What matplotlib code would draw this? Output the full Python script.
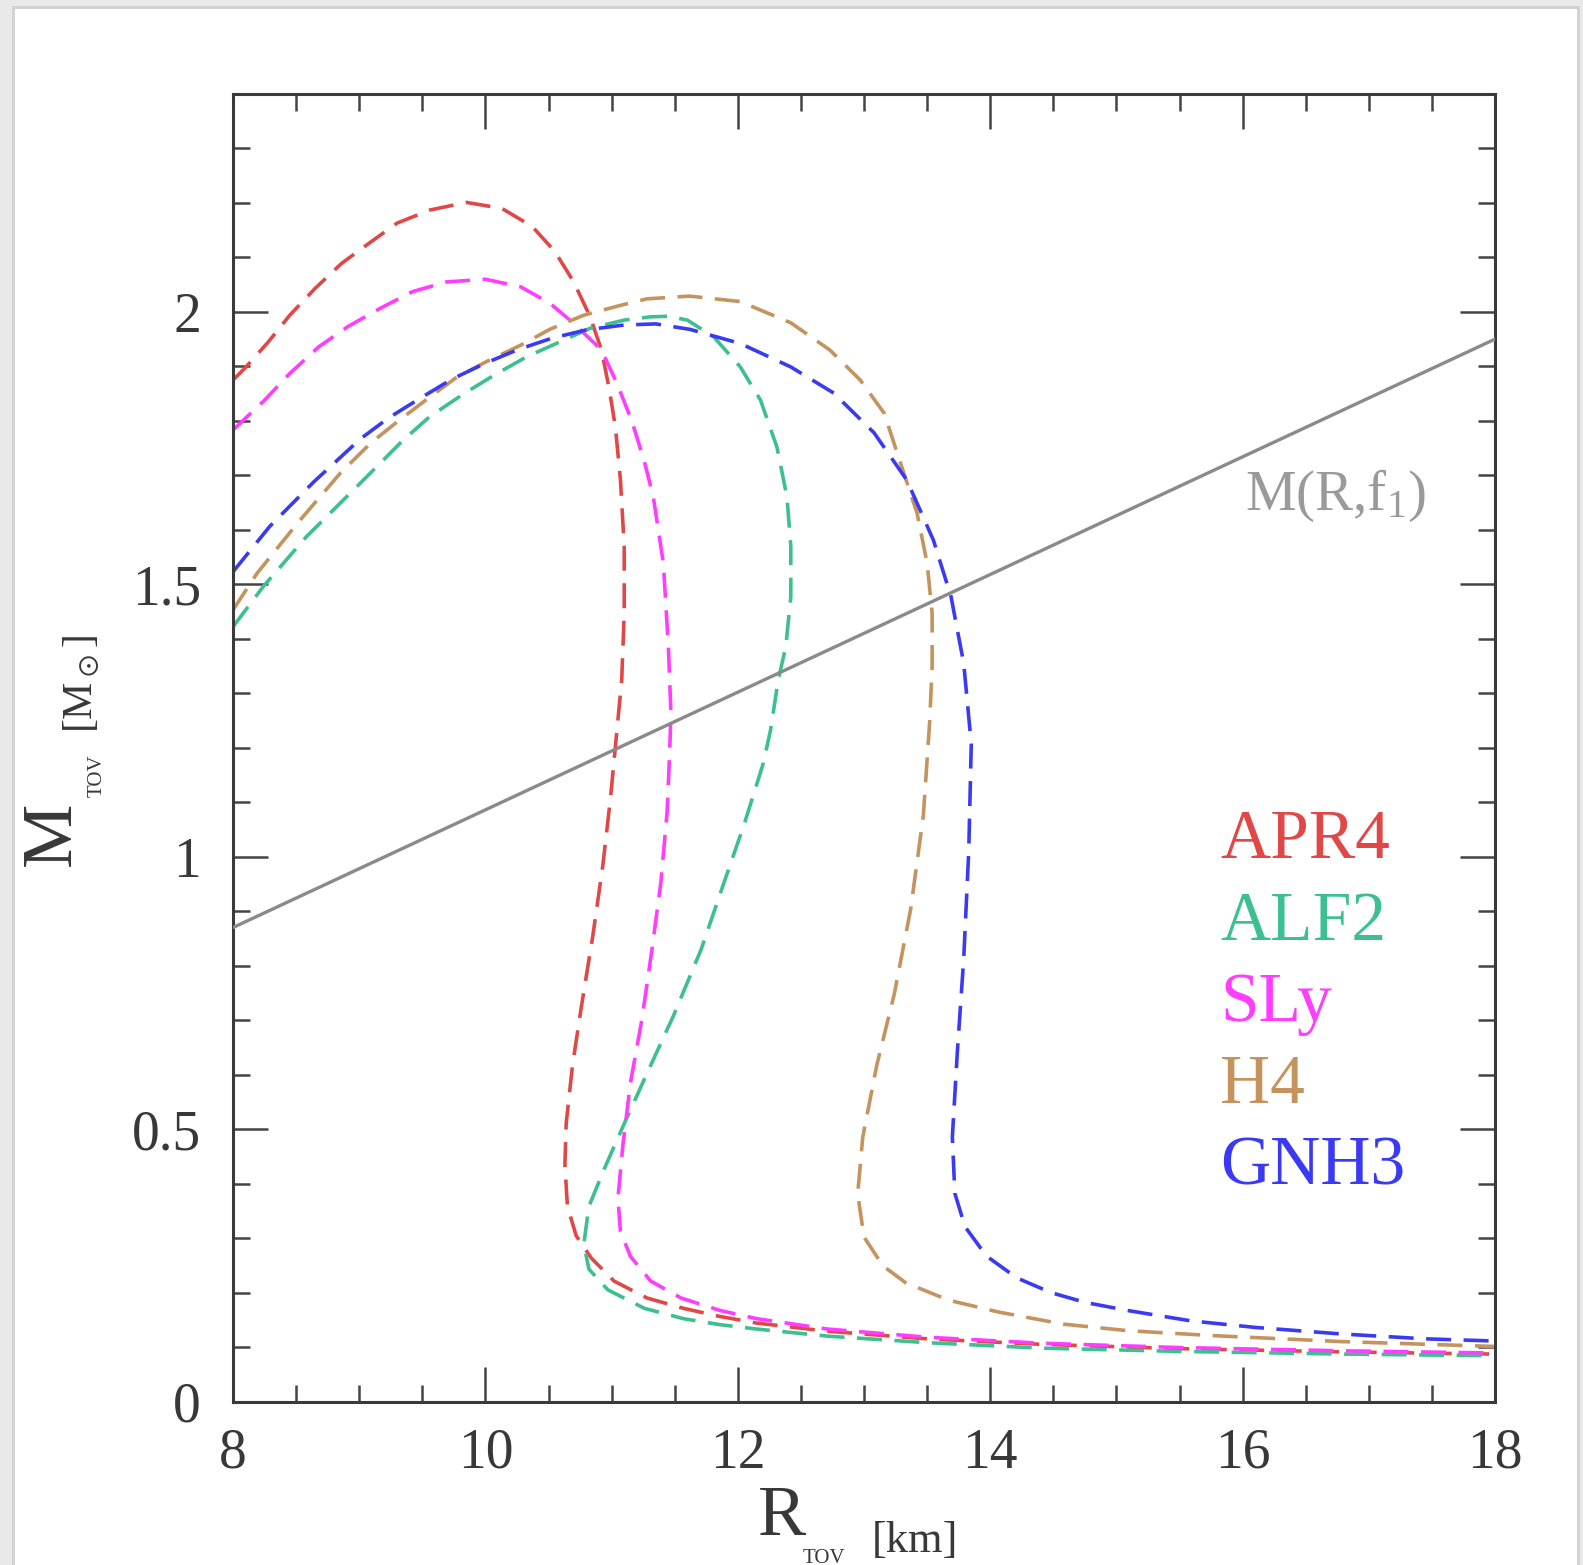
import matplotlib.pyplot as plt
from matplotlib.patches import Rectangle

plt.rcParams["font.family"] = ["Liberation Serif", "DejaVu Serif"]
plt.rcParams["mathtext.fontset"] = "custom"
plt.rcParams["mathtext.rm"] = "Liberation Serif"
plt.rcParams["mathtext.default"] = "regular"
plt.rcParams["lines.scale_dashes"] = False

# mass-radius curves (R in km, M in solar masses), read along each branch
apr4_r = [8.0, 8.095, 8.28, 8.45, 8.65, 8.86, 9.06, 9.30, 9.56, 9.85, 10.13, 10.37,
          10.55, 10.70, 10.83, 10.92, 10.98, 11.03, 11.07, 11.10, 11.10, 11.08, 11.03,
          10.99, 10.93, 10.85, 10.76, 10.69, 10.64, 10.63, 10.65, 10.72, 10.84, 11.02,
          11.28, 11.57, 11.86, 12.15, 12.71, 13.5, 14.4, 15.5, 16.8, 18.0]
apr4_m = [1.875, 1.897, 1.945, 1.994, 2.043, 2.089, 2.123, 2.163, 2.187, 2.201, 2.190, 2.157,
          2.111, 2.055, 1.991, 1.930, 1.860, 1.789, 1.692, 1.569, 1.447, 1.324, 1.202,
          1.105, 0.983, 0.853, 0.724, 0.617, 0.510, 0.434, 0.358, 0.304, 0.263, 0.221,
          0.190, 0.171, 0.156, 0.144, 0.129, 0.115, 0.105, 0.097, 0.091, 0.087]

alf2_r = [8.0, 8.24, 8.58, 8.98, 9.35, 9.56, 9.83, 10.07, 10.33, 10.59, 10.83, 11.10,
          11.31, 11.45, 11.60, 11.81, 12.02, 12.18, 12.31, 12.39, 12.42, 12.42, 12.38,
          12.32, 12.26, 12.20, 12.05, 11.89, 11.71, 11.49, 11.28, 11.10, 10.94, 10.82,
          10.78, 10.82, 10.97, 11.26, 11.57, 11.86, 12.15, 12.71, 13.5, 14.4, 15.5,
          16.8, 18.0]
alf2_m = [1.422, 1.496, 1.587, 1.679, 1.765, 1.808, 1.850, 1.884, 1.918, 1.945, 1.970, 1.985,
          1.991, 1.992, 1.985, 1.954, 1.899, 1.838, 1.752, 1.660, 1.569, 1.477, 1.385,
          1.324, 1.233, 1.170, 1.059, 0.952, 0.830, 0.708, 0.602, 0.510, 0.426, 0.358,
          0.289, 0.243, 0.205, 0.171, 0.152, 0.141, 0.133, 0.120, 0.108, 0.098, 0.092,
          0.087, 0.084]

sly_r = [8.0, 8.04, 8.25, 8.45, 8.68, 8.91, 9.17, 9.42, 9.69, 10.0, 10.28, 10.51, 10.70,
         10.92, 11.04, 11.16, 11.26, 11.33, 11.41, 11.45, 11.47, 11.46, 11.44, 11.39,
         11.32, 11.24, 11.15, 11.09, 11.05, 11.07, 11.15, 11.31, 11.55, 11.86, 12.15,
         12.71, 13.5, 14.4, 15.5, 16.8, 18.0]
sly_m = [1.783, 1.792, 1.838, 1.887, 1.936, 1.973, 2.007, 2.037, 2.055, 2.060, 2.046, 2.016,
         1.979, 1.930, 1.870, 1.800, 1.725, 1.661, 1.539, 1.385, 1.264, 1.190, 1.082,
         0.952, 0.830, 0.701, 0.586, 0.472, 0.373, 0.312, 0.266, 0.221, 0.190, 0.167,
         0.152, 0.133, 0.118, 0.107, 0.099, 0.093, 0.089]

h4_r = [8.0, 8.19, 8.51, 8.85, 9.09, 9.30, 9.51, 9.76, 10.01, 10.28, 10.51, 10.78, 11.07,
        11.28, 11.62, 12.02, 12.42, 12.73, 12.97, 13.16, 13.29, 13.42, 13.50, 13.54,
        13.54, 13.52, 13.47, 13.37, 13.24, 13.10, 12.99, 12.95, 13.0, 13.15, 13.33,
        13.67, 14.07, 14.58, 15.09, 15.76, 16.78, 18.0]
h4_m = [1.453, 1.520, 1.612, 1.704, 1.759, 1.798, 1.835, 1.878, 1.909, 1.939, 1.968, 1.994,
        2.012, 2.024, 2.029, 2.019, 1.980, 1.930, 1.875, 1.814, 1.722, 1.631, 1.539,
        1.447, 1.350, 1.246, 1.075, 0.904, 0.748, 0.616, 0.485, 0.381, 0.302, 0.249,
        0.218, 0.186, 0.164, 0.142, 0.130, 0.121, 0.110, 0.101]

gnh3_r = [8.0, 8.29, 8.64, 9.01, 9.23, 9.48, 9.73, 10.0, 10.26, 10.53, 10.80, 11.10,
          11.35, 11.62, 12.02, 12.42, 12.76, 13.08, 13.34, 13.55, 13.69, 13.79, 13.85,
          13.83, 13.79, 13.74, 13.70, 13.72, 13.80, 13.97, 14.21, 14.48, 14.75, 15.09,
          15.59, 16.10, 16.78, 17.45, 18.0]
gnh3_m = [1.523, 1.606, 1.688, 1.767, 1.805, 1.841, 1.876, 1.906, 1.931, 1.952, 1.967, 1.976,
          1.978, 1.968, 1.942, 1.899, 1.851, 1.778, 1.691, 1.581, 1.477, 1.355, 1.207,
          1.010, 0.812, 0.643, 0.485, 0.382, 0.321, 0.267, 0.227, 0.200, 0.182, 0.167,
          0.148, 0.136, 0.124, 0.115, 0.111]

# M(R, f1) relation
line_r = [8.0, 18.0]
line_m = [0.87, 1.95]

eos_names = ["APR4", "ALF2", "SLy", "H4", "GNH3"]
eos_colors = ["#e04848", "#3dbf8f", "#ff3cff", "#c4935e", "#3a3af5"]
curves = [(apr4_r, apr4_m), (alf2_r, alf2_m), (sly_r, sly_m), (h4_r, h4_m), (gnh3_r, gnh3_m)]

W, H = 1583, 1565
fig = plt.figure(figsize=(W / 100, H / 100), dpi=100)
fig.patch.set_facecolor("#e9e9e9")
fig.patches.append(Rectangle((12 / W, 0), (1580 - 12) / W, 1 - 6 / H,
                             transform=fig.transFigure, facecolor="#d2d2d2",
                             edgecolor="none", zorder=-2))
fig.patches.append(Rectangle((15 / W, 0), (1577 - 15) / W, 1 - 9 / H,
                             transform=fig.transFigure, facecolor="white",
                             edgecolor="none", zorder=-1))

ax = fig.add_axes([233 / W, 1 - 1401.5 / H, (1495 - 233) / W, (1401.5 - 94) / H])

for (r, m), c in zip(curves, eos_colors):
    ax.plot(r, m, color=c, lw=2.6, linestyle=(0, (18, 9)))
ax.plot(line_r, line_m, color="#8a8a8a", lw=2.4, zorder=5)

ax.set_xlim(8, 18)
ax.set_ylim(0, 2.4)
ax.set_xticks([8, 10, 12, 14, 16, 18])
ax.set_xticks([x * 0.5 for x in range(16, 37)], minor=True)
ax.set_yticks([0, 0.5, 1, 1.5, 2])
ax.set_yticklabels(["0", "0.5", "1", "1.5", "2"])
ax.set_yticks([y * 0.1 for y in range(0, 25)], minor=True)

for s in ax.spines.values():
    s.set_linewidth(2.2)
    s.set_color("#3a3a3a")
ax.tick_params(which="both", direction="in", top=True, right=True,
               color="#444444", width=1.8, labelcolor="#383838")
ax.tick_params(which="major", length=25, labelsize=40)
ax.tick_params(which="minor", length=12)
ax.tick_params(axis="x", pad=19)
ax.tick_params(axis="y", pad=23)

for i, (name, c) in enumerate(zip(eos_names, eos_colors)):
    ax.text(0.782, 0.4157 - i * 0.0625, name, color=c, fontsize=50,
            transform=ax.transAxes, ha="left", va="baseline")

ax.text(16.02, 1.636, r"M(R,f$_1$)", color="#9a9a9a", fontsize=41,
        ha="left", va="baseline")

# axis labels built from pieces so the small subscript sits low
def ftext(x, y, s, size, **kw):
    fig.text(x / W, 1 - y / H, s, fontsize=size, color="#383838",
             va="baseline", ha="left", **kw)

ftext(758, 1535, "R", 52)
ftext(803, 1563, "TOV", 15)
ftext(872, 1552, "[km]", 32)

ftext(70, 866, "M", 52, rotation=90, rotation_mode="anchor")
ftext(102, 797, "TOV", 15, rotation=90, rotation_mode="anchor")
ftext(92, 733, r"[M$_\odot$]", 30, rotation=90, rotation_mode="anchor")

fig.savefig("out.png", dpi=100, facecolor=fig.get_facecolor())
